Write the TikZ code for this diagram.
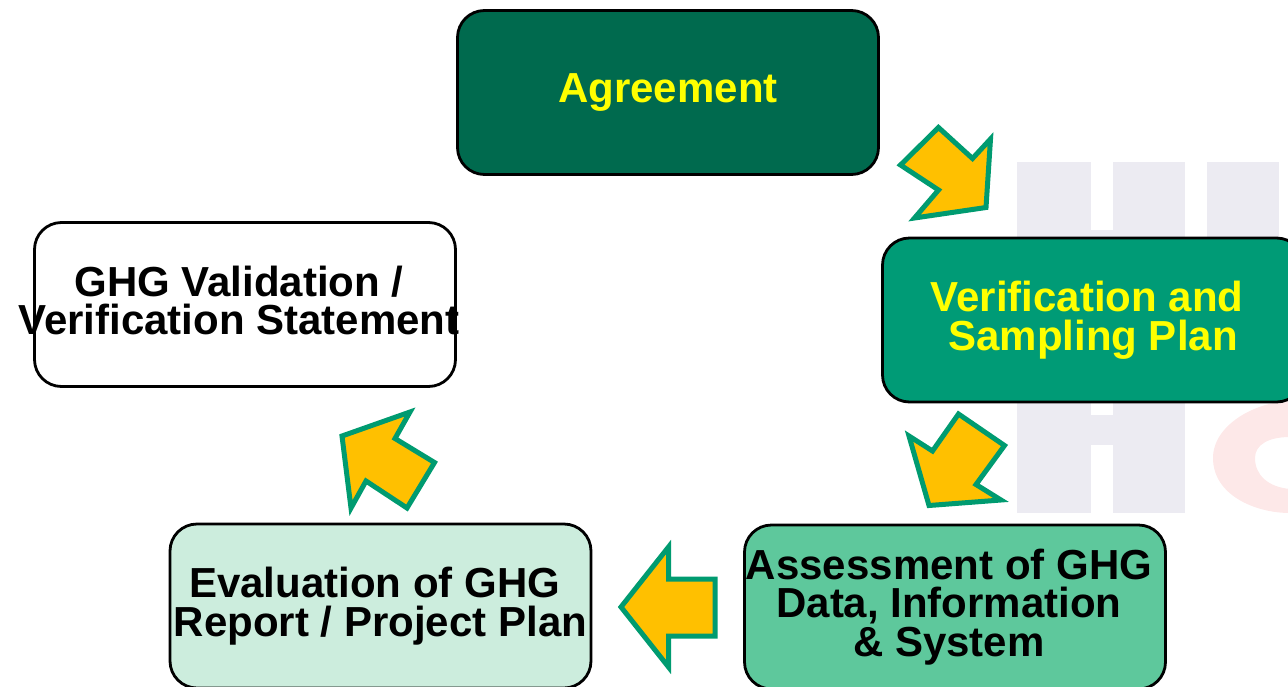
\documentclass[tikz,border=0pt]{standalone}
\usepackage{fontspec}
\setmainfont{Liberation Sans}
\definecolor{boxdark}{RGB}{0,106,78}
\definecolor{boxmid}{RGB}{0,155,118}
\definecolor{boxlight}{RGB}{94,200,156}
\definecolor{boxpale}{RGB}{204,237,221}
\definecolor{arrowyellow}{RGB}{255,192,0}
\definecolor{arrowgreen}{RGB}{0,155,112}
\definecolor{wmgray}{RGB}{236,235,242}
\definecolor{wmpink}{RGB}{253,232,232}
\definecolor{txtyellow}{RGB}{255,255,0}
\newcommand{\trail}[1]{\hbox to #1{}}
\begin{document}
\begin{tikzpicture}[x=1pt,y=-1pt,
  box/.style={draw=black, line width=2.8pt, rounded corners=27pt,
    minimum width=421pt, minimum height=164pt, inner sep=0pt, align=center,
    font=\fontsize{42}{38.5}\selectfont\bfseries},
  blockarrow/.style={draw=arrowgreen, fill=arrowyellow, line width=5pt, line join=miter}]
\useasboundingbox (0,0) rectangle (1288,686);
% watermark
\fill[wmgray] (1017,162) rectangle (1091,513);
\fill[wmgray] (1113,162) rectangle (1185,513);
\fill[wmgray] (1091,230) rectangle (1113,240);
\fill[wmgray] (1091,415) rectangle (1113,445);
\fill[wmgray] (1207,162) rectangle (1279,300);
\fill[wmpink] (1290,401) .. controls (1255,402) and (1213,425) .. (1213,458)
  .. controls (1213,495) and (1255,513) .. (1290,513) -- (1290,489)
  .. controls (1268,487) and (1255,475) .. (1255,458)
  .. controls (1255,445) and (1268,437) .. (1290,437) -- cycle;
% boxes
\node[box, fill=boxdark, text=txtyellow] (agree) at (668,92.5) {Agreement};
\node[box, fill=boxmid, text=txtyellow] (plan) at (1093,320)
  {Verification and\trail{11.7pt}\\Sampling Plan};
\node[box, fill=boxlight, text=black] (assess) at (955,607)
  {Assessment of GHG\trail{12pt}\\Data, Information\trail{12pt}\\\& System\trail{12pt}};
\node[box, fill=boxpale, text=black] (eval) at (380.5,606)
  {Evaluation of GHG\trail{11.7pt}\\Report / Project Plan};
\node[box, fill=white, text=black] (state) at (245,304.5)
  {\makebox[0pt]{GHG Validation /\trail{12pt}}\\\makebox[0pt]{Verification Statement\trail{12pt}}\rule[-8pt]{0pt}{0pt}};
% arrows
\draw[blockarrow] (938.5,127.5) -- (972.5,158.5) -- (990.5,139) -- (986,207.5)
  -- (914.5,218) -- (938.5,190) -- (900.5,165) -- cycle;
\draw[blockarrow] (958.5,414) -- (1004.5,445.5) -- (976,484.5) -- (1001,500)
  -- (929,505.5) -- (909,436) -- (932.5,451) -- cycle;
\draw[blockarrow] (621,607) -- (668.5,547) -- (668.5,579) -- (715,579)
  -- (715,636) -- (668.5,636) -- (668.5,667) -- cycle;
\draw[blockarrow] (342,436) -- (410,412) -- (395,438.5) -- (434.5,462.5)
  -- (407,508) -- (366,481) -- (351,508) -- cycle;
\end{tikzpicture}
\end{document}
